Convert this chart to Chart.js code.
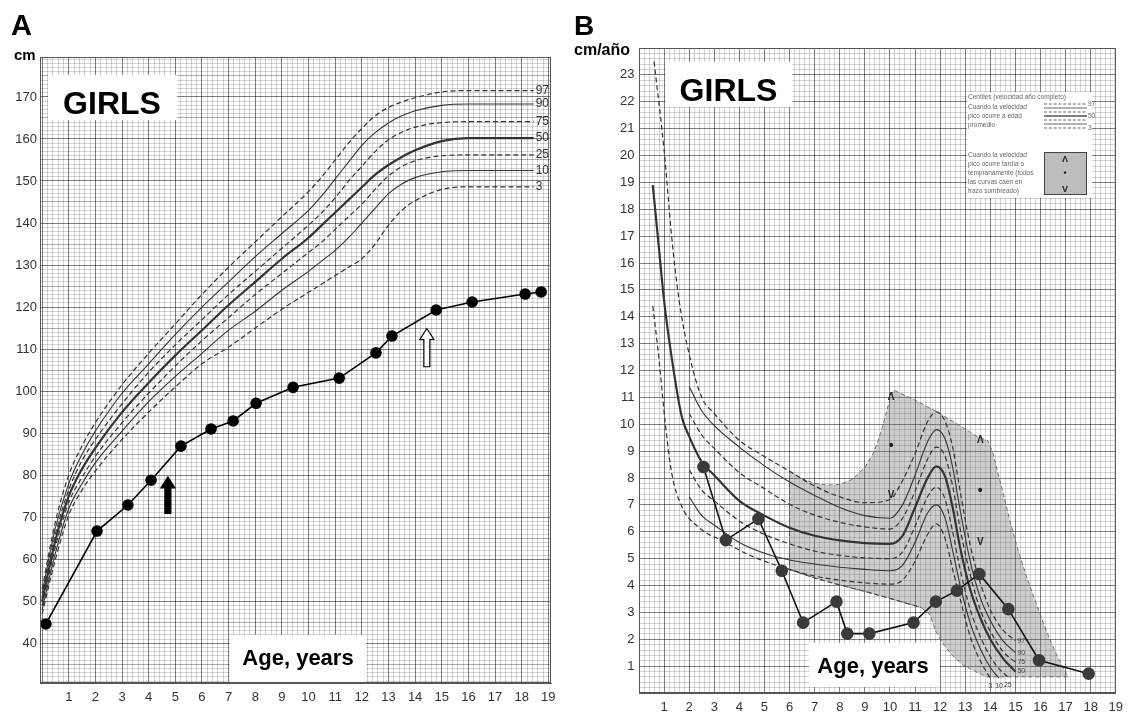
<!DOCTYPE html>
<html>
<head>
<meta charset="utf-8">
<script src="https://cdn.jsdelivr.net/npm/chart.js@4.4.1/dist/chart.umd.min.js"></script>
<style>
  html, body { margin: 0; padding: 0; background: #fff; }
  #wrap { position: relative; width: 1130px; height: 714px; }
  canvas { position: absolute; top: 0; }
  #heightChart { left: 0; }
  #velocityChart { left: 565px; }
</style>
</head>
<body>
<div id="wrap">
  <canvas id="heightChart" width="565" height="714"></canvas>
  <canvas id="velocityChart" width="565" height="714"></canvas>
</div>
<script>
// ---- tick labels ----
const ageTickLabels = [1, 2, 3, 4, 5, 6, 7, 8, 9, 10, 11, 12, 13, 14, 15, 16, 17, 18, 19];
const heightTickLabels = [40, 50, 60, 70, 80, 90, 100, 110, 120, 130, 140, 150, 160, 170];
const velTickLabels = [1, 2, 3, 4, 5, 6, 7, 8, 9, 10, 11, 12, 13, 14, 15, 16, 17, 18, 19, 20, 21, 22, 23];

// ---- panel A: height centiles (cm) ----
const heightCentiles = [97, 90, 75, 50, 25, 10, 3];
const heightCurveAges = [0, 0.5, 1, 1.5, 2, 3, 4, 5, 6, 7, 8, 9, 10, 10.5, 11, 11.5, 12, 12.5, 13, 13.5, 14, 15, 16, 17, 18, 18.45];
const heightP97 = [53, 69, 80, 87, 92.5, 101.5, 109, 116, 123, 129.5, 135.5, 141.5, 147.5, 151, 155, 159, 162.5, 165.5, 167.5, 168.8, 169.8, 171.2, 171.5, 171.5, 171.5, 171.5];
const heightP90 = [52, 67.5, 78, 85, 90.5, 99.5, 106.5, 113.5, 120, 126, 132, 137.5, 143, 146.5, 150.5, 154.5, 158.5, 161.5, 163.8, 165.5, 166.7, 168, 168.3, 168.3, 168.3, 168.3];
const heightP75 = [51, 66, 76.5, 83.5, 88.5, 97, 104.5, 111, 117, 123, 128.5, 134, 139.5, 142.5, 146, 150, 153.5, 157, 159.8, 161.6, 162.8, 163.9, 164.1, 164.1, 164.1, 164.1];
const heightP50 = [50, 64.5, 75, 81.5, 86.5, 95, 102, 108.5, 114.5, 120.5, 126, 131.5, 136.5, 139.5, 142.5, 145.5, 148.5, 151.5, 153.8, 155.7, 157.3, 159.5, 160.2, 160.2, 160.2, 160.2];
const heightP25 = [49, 63, 73.5, 79.5, 84.5, 92.5, 99.5, 106, 112, 117.5, 123, 128, 133, 135.5, 138.5, 141.5, 144.5, 148, 151.2, 153.4, 154.8, 156, 156.2, 156.2, 156.2, 156.2];
const heightP10 = [48, 61.5, 72, 78, 83, 90.5, 97.5, 103.5, 109, 114.5, 119, 124, 128.5, 131, 133.5, 136.5, 140, 143.5, 147, 149.3, 150.8, 152.2, 152.5, 152.5, 152.5, 152.5];
const heightP3 = [47, 60, 70.5, 76.5, 81, 88.5, 95, 101, 106.5, 110.5, 115, 119.5, 123.5, 125.5, 127.5, 129.5, 131.5, 135, 139.5, 143, 145.3, 148, 148.6, 148.6, 148.6, 148.6];

// ---- panel A: patient ----
const patientAges = [0.14, 2.06, 3.22, 4.09, 5.21, 6.34, 7.17, 8.03, 9.42, 11.15, 12.53, 13.13, 14.79, 16.14, 18.13, 18.73];
const patientHeights = [44.6, 66.7, 72.9, 78.8, 86.9, 91.0, 92.9, 97.1, 100.9, 103.1, 109.1, 113.1, 119.3, 121.2, 123.1, 123.6];
const arrowAges = [4.72, 14.44];
const arrowTips = [79.6, 114.9];
const arrowTails = [70.9, 105.8];
const arrowFills = ['#000', '#fff'];

// ---- panel B: velocity centiles (cm/año) ----
const velCentiles = [97, 90, 75, 50, 25, 10, 3];
const velAges97 = [0.6, 1.0, 1.3, 1.6, 2, 2.5, 3, 4, 5, 6, 7, 8, 9, 10, 10.5, 11, 11.5, 11.85, 12.2, 12.5, 12.8, 13.2, 13.6, 14.0, 14.5, 15.0];
const vel97 = [23.5, 20.2, 17.0, 14.6, 12.6, 11.0, 10.4, 9.4, 8.8, 8.25, 7.7, 7.3, 7.08, 7.2, 7.9, 8.9, 10.1, 10.46, 10.1, 9.15, 7.5, 5.5, 4.1, 3.1, 2.35, 1.95];
const velAges90 = [2, 2.5, 3, 4, 5, 6, 7, 8, 9, 10, 10.5, 11, 11.5, 11.85, 12.2, 12.5, 12.8, 13.2, 13.6, 14.0, 14.5, 15.0];
const vel90 = [11.4, 10.5, 9.95, 9.15, 8.45, 7.85, 7.35, 6.9, 6.6, 6.5, 7.0, 8.1, 9.35, 9.8, 9.45, 8.4, 6.8, 4.9, 3.55, 2.7, 1.95, 1.5];
const velAges75 = [2, 2.5, 3, 4, 5, 6, 7, 8, 9, 10, 10.5, 11, 11.5, 11.85, 12.2, 12.5, 12.8, 13.2, 13.6, 14.0, 14.5, 15.0];
const vel75 = [10.4, 9.6, 9.1, 8.2, 7.6, 7.02, 6.62, 6.35, 6.18, 6.1, 6.5, 7.5, 8.7, 9.15, 8.8, 7.7, 6.1, 4.4, 3.1, 2.3, 1.55, 1.15];
const velAges50 = [0.55, 0.8, 1.0, 1.3, 1.7, 2, 2.5, 3, 4, 5, 6, 7, 8, 9, 10, 10.5, 11, 11.5, 11.85, 12.2, 12.5, 12.8, 13.2, 13.6, 14.0, 14.5, 15.0];
const vel50 = [18.9, 16.5, 14.6, 12.5, 10.3, 9.55, 8.6, 8.1, 7.15, 6.6, 6.15, 5.85, 5.68, 5.58, 5.55, 5.85, 6.9, 8.0, 8.43, 8.05, 6.9, 5.4, 3.85, 2.8, 2.0, 1.3, 0.8];
const velAges25 = [2, 2.5, 3, 4, 5, 6, 7, 8, 9, 10, 10.5, 11, 11.5, 11.85, 12.2, 12.5, 12.8, 13.2, 13.6, 14.0, 14.4, 14.7];
const vel25 = [8.3, 7.55, 7.15, 6.4, 5.9, 5.55, 5.28, 5.12, 5.03, 5.0, 5.25, 6.2, 7.3, 7.66, 7.2, 6.0, 4.6, 3.1, 2.1, 1.35, 0.85, 0.6];
const velAges10 = [2, 2.5, 3, 4, 5, 6, 7, 8, 9, 10, 10.5, 11, 11.5, 11.85, 12.2, 12.5, 12.8, 13.2, 13.6, 14.0, 14.35];
const vel10 = [7.3, 6.6, 6.25, 5.6, 5.2, 4.95, 4.8, 4.68, 4.6, 4.55, 4.75, 5.6, 6.7, 7.0, 6.5, 5.3, 4.0, 2.6, 1.65, 0.95, 0.55];
const velAges3 = [0.55, 0.8, 1.05, 1.3, 1.7, 2.4, 3.3, 4.6, 6, 7, 8, 9, 10, 10.5, 11, 11.5, 11.85, 12.2, 12.5, 12.8, 13.2, 13.6, 14.0];
const vel3 = [14.4, 12.4, 10.0, 8.2, 6.95, 6.15, 5.67, 5.05, 4.6, 4.35, 4.2, 4.1, 4.05, 4.2, 4.9, 5.9, 6.29, 5.75, 4.6, 3.5, 2.1, 1.2, 0.55];
// late-maturer lower line
const lateAges = [6, 7, 8, 9, 10, 11.25];
const lateVals = [4.6, 4.28, 4.02, 3.78, 3.52, 3.18];
// shaded tempo band outline
const shadeAges = [6.0, 6.5, 7.0, 7.5, 8.0, 8.5, 9.0, 9.3, 9.5, 9.7, 9.9, 10.05, 10.15, 11.0, 11.8, 12.7, 13.5, 13.9, 14.1, 14.3, 14.55, 14.8, 15.08, 15.4, 15.74, 16.1, 16.4, 16.7, 16.9, 17.1,
                   13.85, 13.4, 12.9, 12.5, 12.1, 11.8, 11.6, 11.25, 10, 9, 8, 7, 6.0];
const shadeVals = [8.25, 7.98, 7.8, 7.74, 7.76, 7.95, 8.4, 8.85, 9.3, 9.9, 10.6, 11.1, 11.27, 10.9, 10.5, 10.0, 9.53, 9.4, 8.95, 8.2, 7.3, 6.35, 5.4, 4.45, 3.56, 2.65, 1.94, 1.3, 0.94, 0.6,
                   0.6, 0.8, 1.05, 1.38, 1.85, 2.35, 2.9, 3.18, 3.52, 3.78, 4.02, 4.28, 4.6];
const tempoMarkAges = [10.05, 10.05, 10.05, 13.6, 13.6, 13.6];
const tempoMarkVals = [11.0, 9.2, 7.35, 9.4, 7.5, 5.6];
const tempoMarkSymbols = ['Λ', '•', 'V', 'Λ', '•', 'V'];

// ---- panel B: patient ----
const velPatientAges = [2.57, 3.46, 4.76, 5.69, 6.54, 7.87, 8.3, 9.18, 10.94, 11.83, 12.67, 13.56, 14.72, 15.94, 17.92];
const velPatient = [8.41, 5.69, 6.48, 4.55, 2.62, 3.40, 2.21, 2.21, 2.62, 3.40, 3.81, 4.43, 3.12, 1.22, 0.72];

// ---- helpers ----
const FONT = '"Liberation Sans", Arial, sans-serif';
const MINOR = 'rgba(0,0,0,0.17)';
const MID = 'rgba(0,0,0,0.32)';
const MAJOR = 'rgba(0,0,0,0.5)';
const centileDash = [[5, 3], [], [5, 3], [], [5, 3], [], [5, 3]];
const centileWidth = [1.2, 1.1, 1.2, 2.2, 1.2, 1.1, 1.2];

const pts = (xs, ys) => xs.map((x, i) => ({ x: x, y: ys[i] }));
const isWhole = v => Math.abs(v - Math.round(v)) < 1e-6;
const labelFor = (v, list) => (isWhole(v) && list.includes(Math.round(v))) ? String(Math.round(v)) : '';
const centileStyle = i => ({
  borderColor: '#333', borderWidth: centileWidth[i], borderDash: centileDash[i],
  pointRadius: 0, fill: false, cubicInterpolationMode: 'monotone'
});

function whiteBox(ctx, x, y, w, h, text, size, cx, baseline) {
  ctx.fillStyle = '#fff';
  ctx.fillRect(x, y, w, h);
  ctx.fillStyle = '#000';
  ctx.font = 'bold ' + size + 'px ' + FONT;
  ctx.textAlign = 'center';
  ctx.textBaseline = 'alphabetic';
  ctx.fillText(text, cx, baseline);
}

function drawArrow(ctx, px, tipY, tailY, fill) {
  const shaft = 6, head = 14, headLen = 11;
  ctx.beginPath();
  ctx.moveTo(px, tipY);
  ctx.lineTo(px + head / 2, tipY + headLen);
  ctx.lineTo(px + shaft / 2, tipY + headLen);
  ctx.lineTo(px + shaft / 2, tailY);
  ctx.lineTo(px - shaft / 2, tailY);
  ctx.lineTo(px - shaft / 2, tipY + headLen);
  ctx.lineTo(px - head / 2, tipY + headLen);
  ctx.closePath();
  ctx.fillStyle = fill;
  ctx.fill();
  ctx.lineWidth = 1.2;
  ctx.strokeStyle = '#000';
  ctx.stroke();
}

function frame(chart) {
  const { ctx, chartArea: a } = chart;
  ctx.save();
  ctx.strokeStyle = '#555';
  ctx.lineWidth = 1;
  ctx.strokeRect(a.left + 0.5, a.top + 0.5, a.right - a.left - 1, a.bottom - a.top - 1);
  ctx.restore();
}

// ---- panel A ----
const heightCurves = [heightP97, heightP90, heightP75, heightP50, heightP25, heightP10, heightP3];

const heightDecor = {
  id: 'heightDecor',
  afterDatasetsDraw(chart) {
    const { ctx, scales: { x, y } } = chart;
    frame(chart);
    ctx.save();
    // centile labels at the end of each curve
    ctx.font = '12px ' + FONT;
    ctx.fillStyle = '#333';
    ctx.textAlign = 'left';
    ctx.textBaseline = 'middle';
    const lastAge = heightCurveAges[heightCurveAges.length - 1];
    heightCurves.forEach((vals, i) => {
      ctx.fillText(String(heightCentiles[i]), x.getPixelForValue(lastAge) + 2, y.getPixelForValue(vals[vals.length - 1]));
    });
    // arrows
    arrowAges.forEach((age, i) => {
      drawArrow(ctx, x.getPixelForValue(age), y.getPixelForValue(arrowTips[i]), y.getPixelForValue(arrowTails[i]), arrowFills[i]);
    });
    // boxes
    whiteBox(ctx, 48, 75, 129, 45, 'GIRLS', 32, 112, 114);
    whiteBox(ctx, 230, 635, 136, 47, 'Age, years', 22, 298, 665);
    // panel letter and unit
    ctx.fillStyle = '#000';
    ctx.textAlign = 'left';
    ctx.font = 'bold 29px ' + FONT;
    ctx.fillText('A', 11, 35);
    ctx.font = 'bold 15px ' + FONT;
    ctx.fillText('cm', 14, 60);
    ctx.restore();
  }
};

new Chart(document.getElementById('heightChart'), {
  type: 'line',
  data: {
    datasets: [
      {
        label: 'Patient', data: pts(patientAges, patientHeights),
        borderColor: '#000', borderWidth: 1.6, tension: 0,
        pointRadius: 5, pointBackgroundColor: '#000', pointBorderColor: '#000'
      },
      ...heightCurves.map((vals, i) => Object.assign({ label: 'P' + heightCentiles[i], data: pts(heightCurveAges, vals) }, centileStyle(i)))
    ]
  },
  options: {
    responsive: false,
    animation: false,
    events: [],
    layout: { padding: { top: 57, right: 14, left: 0, bottom: 0 } },
    plugins: { legend: { display: false }, tooltip: { enabled: false } },
    scales: {
      x: {
        type: 'linear', min: -0.08, max: 19.1,
        afterFit: s => { s.height = 31; },
        ticks: {
          stepSize: 0.2, includeBounds: false, autoSkip: false, maxRotation: 0, minRotation: 0, padding: 7,
          color: '#333', font: { family: FONT, size: 13 },
          callback: v => labelFor(v, ageTickLabels)
        },
        grid: { drawTicks: false, lineWidth: 1, color: c => (c.tick && isWhole(c.tick.value)) ? MAJOR : MINOR },
        border: { display: true, color: '#555' }
      },
      y: {
        type: 'linear', min: 30.55, max: 179.5,
        afterFit: s => { s.width = 40; },
        ticks: {
          stepSize: 1, includeBounds: false, autoSkip: false, padding: 3,
          color: '#333', font: { family: FONT, size: 13 },
          callback: v => labelFor(v, heightTickLabels)
        },
        grid: {
          drawTicks: false, lineWidth: 1,
          color: c => {
            if (!c.tick) return MAJOR;
            const v = Math.round(c.tick.value);
            return v % 10 === 0 ? MAJOR : (v % 5 === 0 ? MID : MINOR);
          }
        },
        border: { display: true, color: '#555' }
      }
    }
  },
  plugins: [heightDecor]
});

// ---- panel B ----
const velCurveAges = [velAges97, velAges90, velAges75, velAges50, velAges25, velAges10, velAges3];
const velCurves = [vel97, vel90, vel75, vel50, vel25, vel10, vel3];

const velocityDecor = {
  id: 'velocityDecor',
  beforeDatasetsDraw(chart) {
    const { ctx, chartArea: a, scales: { x, y } } = chart;
    ctx.save();
    ctx.beginPath();
    ctx.rect(a.left, a.top, a.right - a.left, a.bottom - a.top);
    ctx.clip();
    ctx.beginPath();
    shadeAges.forEach((age, i) => {
      const px = x.getPixelForValue(age), py = y.getPixelForValue(shadeVals[i]);
      if (i === 0) ctx.moveTo(px, py); else ctx.lineTo(px, py);
    });
    ctx.closePath();
    ctx.fillStyle = 'rgba(105,105,105,0.33)';
    ctx.fill();
    ctx.setLineDash([4, 3]);
    ctx.strokeStyle = 'rgba(80,80,80,0.75)';
    ctx.lineWidth = 1;
    ctx.stroke();
    ctx.restore();
  },
  afterDatasetsDraw(chart) {
    const { ctx, scales: { x, y } } = chart;
    frame(chart);
    ctx.save();
    // tempo markers in the shaded band
    ctx.fillStyle = '#222';
    ctx.textAlign = 'center';
    ctx.textBaseline = 'middle';
    tempoMarkAges.forEach((age, i) => {
      ctx.font = (tempoMarkSymbols[i] === '•' ? 'bold 14px ' : 'bold 10px ') + FONT;
      ctx.fillText(tempoMarkSymbols[i], x.getPixelForValue(age), y.getPixelForValue(tempoMarkVals[i]));
    });
    // centile labels at curve ends
    ctx.font = '7px ' + FONT;
    ctx.fillStyle = '#444';
    velCurves.forEach((vals, i) => {
      const ages = velCurveAges[i];
      const px = x.getPixelForValue(ages[ages.length - 1]);
      const py = y.getPixelForValue(vals[vals.length - 1]);
      if (velCentiles[i] <= 25) {
        ctx.textAlign = 'center';
        ctx.fillText(String(velCentiles[i]), px, py + 8);
      } else {
        ctx.textAlign = 'left';
        ctx.fillText(String(velCentiles[i]), px + 2, py);
      }
    });
    // legend box (top right)
    const lx = 402, ly = 92;
    ctx.fillStyle = '#fff';
    ctx.fillRect(lx, ly, 125, 106);
    ctx.fillStyle = '#666';
    ctx.font = '6.5px ' + FONT;
    ctx.textAlign = 'left';
    ctx.textBaseline = 'alphabetic';
    ctx.fillText('Centiles (velocidad año completo)', lx + 1, ly + 7);
    ['Cuando la velocidad', 'pico ocurre a edad', 'promedio'].forEach((t, i) => ctx.fillText(t, lx + 1, ly + 17 + i * 9));
    ['Cuando la velocidad', 'pico ocurre tardía o', 'tempranamente (todos', 'las curvas caen en', 'trazo sombreado)']
      .forEach((t, i) => ctx.fillText(t, lx + 1, ly + 65 + i * 9));
    for (let i = 0; i < 7; i++) {
      ctx.beginPath();
      ctx.setLineDash(centileDash[i].map(d => d * 0.6));
      ctx.lineWidth = i === 3 ? 1.6 : 0.9;
      ctx.strokeStyle = '#555';
      ctx.moveTo(lx + 77, ly + 12 + i * 4);
      ctx.lineTo(lx + 120, ly + 12 + i * 4);
      ctx.stroke();
    }
    ctx.setLineDash([]);
    ctx.fillStyle = '#666';
    ctx.fillText('97', lx + 121, ly + 14);
    ctx.fillText('50', lx + 121, ly + 26);
    ctx.fillText('3', lx + 121, ly + 38);
    ctx.fillStyle = '#bdbdbd';
    ctx.fillRect(lx + 77, ly + 60, 43, 43);
    ctx.strokeStyle = '#444';
    ctx.lineWidth = 1;
    ctx.strokeRect(lx + 77.5, ly + 60.5, 42, 42);
    ctx.fillStyle = '#222';
    ctx.textAlign = 'center';
    ctx.font = 'bold 9px ' + FONT;
    ctx.fillText('Λ', lx + 98, ly + 70);
    ctx.fillText('•', lx + 98, ly + 84);
    ctx.fillText('V', lx + 98, ly + 100);
    // boxes
    whiteBox(ctx, 100.5, 62, 127, 45, 'GIRLS', 32, 163.5, 101);
    whiteBox(ctx, 244, 643, 131, 44, 'Age, years', 22, 308, 673);
    // panel letter and unit
    ctx.fillStyle = '#000';
    ctx.textAlign = 'left';
    ctx.font = 'bold 28px ' + FONT;
    ctx.fillText('B', 9, 35);
    ctx.font = 'bold 16px ' + FONT;
    ctx.fillText('cm/año', 9, 55);
    ctx.restore();
  }
};

new Chart(document.getElementById('velocityChart'), {
  type: 'line',
  data: {
    datasets: [
      {
        label: 'Patient', data: pts(velPatientAges, velPatient),
        borderColor: '#111', borderWidth: 1.6, tension: 0,
        pointRadius: 5.5, pointBackgroundColor: '#3a3a3a', pointBorderColor: '#3a3a3a'
      },
      ...velCurves.map((vals, i) => Object.assign({ label: 'P' + velCentiles[i], data: pts(velCurveAges[i], vals) }, centileStyle(i))),
      {
        label: 'Late', data: pts(lateAges, lateVals),
        borderColor: '#444', borderWidth: 1.1, borderDash: [5, 3], pointRadius: 0, cubicInterpolationMode: 'monotone'
      }
    ]
  },
  options: {
    responsive: false,
    animation: false,
    events: [],
    layout: { padding: { top: 48, right: 12, left: 0, bottom: 0 } },
    plugins: { legend: { display: false }, tooltip: { enabled: false } },
    scales: {
      x: {
        type: 'linear', min: 0, max: 19,
        afterFit: s => { s.height = 21; },
        ticks: {
          stepSize: 0.2, autoSkip: false, maxRotation: 0, minRotation: 0, padding: 7,
          color: '#333', font: { family: FONT, size: 13 },
          callback: v => labelFor(v, ageTickLabels)
        },
        grid: { drawTicks: false, lineWidth: 1, color: c => (c.tick && isWhole(c.tick.value)) ? MAJOR : MINOR },
        border: { display: true, color: '#555' }
      },
      y: {
        type: 'linear', min: 0, max: 24,
        afterFit: s => { s.width = 74; },
        ticks: {
          stepSize: 0.2, autoSkip: false, padding: 4.5,
          color: '#333', font: { family: FONT, size: 13 },
          callback: v => labelFor(v, velTickLabels)
        },
        grid: { drawTicks: false, lineWidth: 1, color: c => (c.tick && isWhole(c.tick.value)) ? MAJOR : MINOR },
        border: { display: true, color: '#555' }
      }
    }
  },
  plugins: [velocityDecor]
});
</script>
</body>
</html>
